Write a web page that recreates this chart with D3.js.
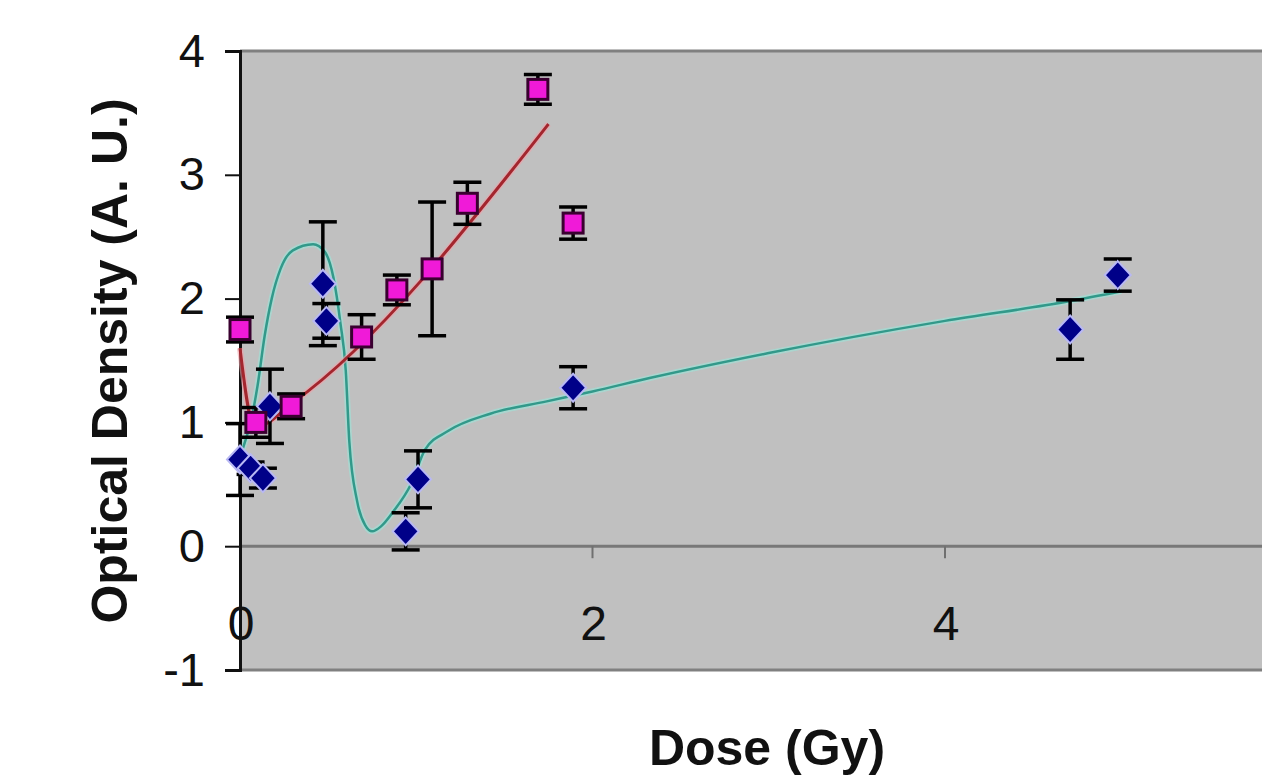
<!DOCTYPE html>
<html>
<head>
<meta charset="utf-8">
<script src="https://cdn.jsdelivr.net/npm/d3@7"></script>
<style>
  body { margin: 0; background: #fff; }
  svg { display: block; font-family: Arial, "Liberation Sans", sans-serif; }
</style>
</head>
<body>
<div id="chart"></div>
<script>
// blue diamonds : dose, optical density, error
const blueDose = [0.00, 0.06, 0.13, 0.17, 0.47, 0.49, 0.94, 1.01, 1.89, 4.71, 4.98];
const blueOD   = [0.70, 0.63, 0.55, 1.13, 2.12, 1.82, 0.12, 0.54, 1.28, 1.75, 2.19];
const blueErr  = [0.29, 0.05, 0.08, 0.30, 0.50, 0.14, 0.15, 0.23, 0.17, 0.24, 0.13];

// magenta squares
const pinkDose = [0.00, 0.09, 0.29, 0.69, 0.89, 1.09, 1.29, 1.69, 1.89];
const pinkOD   = [1.75, 1.00, 1.13, 1.69, 2.07, 2.24, 2.77, 3.69, 2.61];
const pinkErr  = [0.10, 0.12, 0.10, 0.18, 0.12, 0.54, 0.17, 0.12, 0.13];

// fitted curves
const blueFitDose = [0, 0.03, 0.06, 0.1, 0.14, 0.18, 0.23, 0.3, 0.415, 0.48, 0.53, 0.57, 0.6, 0.62, 0.665, 0.71, 0.75, 0.8, 0.87, 0.97, 1.05, 1.18, 1.42, 1.74, 2.0, 2.33, 3.0, 4.0, 4.71, 5.0];
const blueFitOD   = [0.72, 0.85, 1.0, 1.3, 1.7, 2.0, 2.24, 2.39, 2.44, 2.38, 2.17, 1.8, 1.42, 0.85, 0.36, 0.17, 0.12, 0.16, 0.28, 0.5, 0.78, 0.93, 1.07, 1.17, 1.25, 1.36, 1.56, 1.82, 1.98, 2.06];
const pinkFitDose = [0, 0.07, 0.1, 0.3, 1.75];
const pinkFitOD   = [1.6, 1.0, 0.97, 1.16, 3.41];

const xTicks = [0, 2, 4];
const yTicks = [-1, 0, 1, 2, 3, 4];

const width = 1262, height = 777;
const x = d3.scaleLinear().domain([0, 6]).range([240, 1297.5]);
const y = d3.scaleLinear().domain([-1, 4]).range([670, 51]);

const svg = d3.select('#chart').append('svg')
    .attr('width', width).attr('height', height);

// plot area
svg.append('rect')
    .attr('x', x(0)).attr('y', y(4))
    .attr('width', x(6) - x(0)).attr('height', y(-1) - y(4))
    .attr('fill', '#c0c0c0');
svg.append('line')
    .attr('x1', x(0)).attr('x2', x(6)).attr('y1', y(4)).attr('y2', y(4))
    .attr('stroke', '#808080').attr('stroke-width', 3);
svg.append('line')
    .attr('x1', x(0)).attr('x2', x(6)).attr('y1', y(-1)).attr('y2', y(-1))
    .attr('stroke', '#808080').attr('stroke-width', 3);

// x axis on the zero line
svg.append('line')
    .attr('x1', x(0)).attr('x2', x(6)).attr('y1', y(0)).attr('y2', y(0))
    .attr('stroke', '#787878').attr('stroke-width', 3);
svg.selectAll('.xtick').data(xTicks).enter().append('line')
    .attr('x1', d => x(d)).attr('x2', d => x(d))
    .attr('y1', y(0)).attr('y2', y(0) + 12)
    .attr('stroke', '#707070').attr('stroke-width', 2);
svg.selectAll('.xlab').data(xTicks).enter().append('text')
    .attr('x', d => x(d) + 1).attr('y', 640)
    .attr('text-anchor', 'middle')
    .attr('font-size', 48).attr('fill', '#111')
    .text(d => d);

// y axis
const yAxis = d3.axisLeft(y).tickValues(yTicks).tickSize(15).tickPadding(20)
    .tickFormat(d3.format('d'));
const gy = svg.append('g').attr('transform', `translate(${x(0)},0)`).call(yAxis);
gy.select('.domain').attr('stroke', '#111').attr('stroke-width', 3);
gy.selectAll('.tick line').attr('stroke', '#111').attr('stroke-width', 2);
gy.selectAll('.tick text').attr('font-size', 47).attr('fill', '#111')
    .attr('font-family', 'Arial, "Liberation Sans", sans-serif')
    .text(d => d < 0 ? '-' + Math.abs(d) : d);

// axis titles
svg.append('text')
    .attr('transform', 'translate(127,361) rotate(-90)')
    .attr('text-anchor', 'middle')
    .attr('font-size', 50).attr('font-weight', 'bold').attr('fill', '#111')
    .text('Optical Density (A. U.)');
svg.append('text')
    .attr('x', 767).attr('y', 765)
    .attr('text-anchor', 'middle')
    .attr('font-size', 50).attr('font-weight', 'bold').attr('fill', '#111')
    .text('Dose (Gy)');

// fitted lines
const line = d3.line().x(d => x(d[0])).y(d => y(d[1]));
const blueFit = d3.zip(blueFitDose, blueFitOD);
const pinkFit = d3.zip(pinkFitDose, pinkFitOD);

svg.append('path').datum(blueFit)
    .attr('d', line.curve(d3.curveMonotoneX))
    .attr('fill', 'none').attr('stroke', '#9fe0d6').attr('stroke-width', 6).attr('opacity', 0.7);
svg.append('path').datum(blueFit)
    .attr('d', line.curve(d3.curveMonotoneX))
    .attr('fill', 'none').attr('stroke', '#32998a').attr('stroke-width', 2.5);

svg.append('path').datum(pinkFit)
    .attr('d', line.curve(d3.curveMonotoneX))
    .attr('fill', 'none').attr('stroke', '#f0a0a8').attr('stroke-width', 6).attr('opacity', 0.6);
svg.append('path').datum(pinkFit)
    .attr('d', line.curve(d3.curveMonotoneX))
    .attr('fill', 'none').attr('stroke', '#a3262e').attr('stroke-width', 3);

// error bars
function errBars(dose, od, err) {
    const g = svg.append('g').attr('stroke', '#000').attr('stroke-width', 3.5);
    dose.forEach((d, i) => {
        const cx = x(d), top = y(od[i] + err[i]), bot = y(od[i] - err[i]);
        g.append('line').attr('x1', cx).attr('x2', cx).attr('y1', top).attr('y2', bot);
        g.append('line').attr('x1', cx - 14).attr('x2', cx + 14).attr('y1', top).attr('y2', top);
        g.append('line').attr('x1', cx - 14).attr('x2', cx + 14).attr('y1', bot).attr('y2', bot);
    });
}
errBars(blueDose, blueOD, blueErr);
errBars(pinkDose, pinkOD, pinkErr);

// markers
svg.append('g').selectAll('path').data(d3.zip(blueDose, blueOD)).enter().append('path')
    .attr('d', d => {
        const cx = x(d[0]), cy = y(d[1]);
        return `M${cx},${cy - 14}L${cx + 13},${cy}L${cx},${cy + 14}L${cx - 13},${cy}Z`;
    })
    .attr('fill', '#000088').attr('stroke', '#b8b8f4').attr('stroke-width', 2);

svg.append('g').selectAll('rect').data(d3.zip(pinkDose, pinkOD)).enter().append('rect')
    .attr('x', d => x(d[0]) - 10).attr('y', d => y(d[1]) - 10)
    .attr('width', 20).attr('height', 20)
    .attr('fill', '#f01ad8').attr('stroke', '#3a0030').attr('stroke-width', 3);
</script>
</body>
</html>
